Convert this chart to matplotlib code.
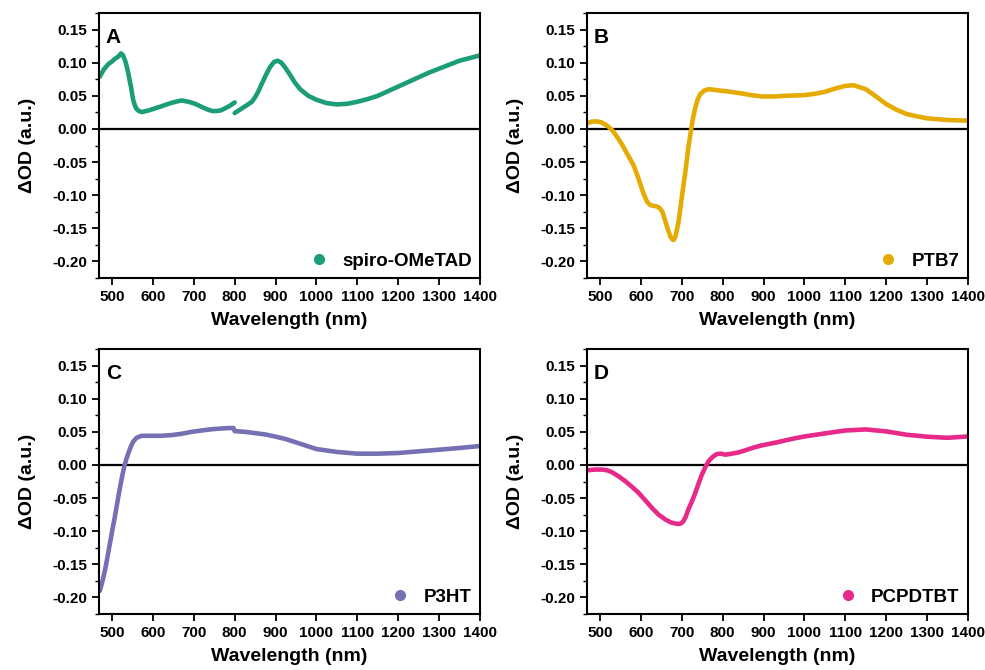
import matplotlib
matplotlib.use("Agg")
import matplotlib.pyplot as plt
from matplotlib.lines import Line2D
import numpy as np

plt.rcParams['font.family'] = ['Liberation Sans', 'DejaVu Sans']
plt.rcParams['font.weight'] = 'bold'

# Panel A: spiro-OMeTAD (two segments, gap at 800 nm)
a1_x = [470, 480, 491, 500, 507, 515, 522, 527, 532, 536, 540, 543, 546.5, 549, 552, 556, 560, 566, 573,
        590, 605, 620, 638, 655, 670, 687, 703, 720, 735, 746, 756, 766, 776, 788, 800]
a1_y = [0.079, 0.090, 0.098, 0.102, 0.106, 0.109, 0.114, 0.111, 0.103, 0.094, 0.083, 0.073, 0.063, 0.053, 0.043,
        0.035, 0.030, 0.027, 0.0255, 0.028, 0.031, 0.034, 0.038, 0.041, 0.043, 0.041, 0.038, 0.033, 0.029,
        0.027, 0.027, 0.028, 0.031, 0.035, 0.040]
a2_x = [800, 815, 830, 842, 850, 858, 866, 876, 886, 896, 905, 914, 923, 935, 946, 960, 980, 1000, 1025,
        1050, 1075, 1100, 1125, 1150, 1175, 1200, 1225, 1250, 1275, 1300, 1325, 1350, 1375, 1400]
a2_y = [0.024, 0.030, 0.036, 0.041, 0.048, 0.057, 0.068, 0.081, 0.093, 0.101, 0.103, 0.100, 0.093, 0.082, 0.071,
        0.060, 0.050, 0.044, 0.039, 0.037, 0.038, 0.041, 0.045, 0.050, 0.057, 0.064, 0.071, 0.078, 0.085,
        0.091, 0.097, 0.103, 0.107, 0.111]

# Panel B: PTB7
b_x = [470, 480, 492, 503, 513, 521, 529, 537, 545, 556, 566, 574, 582, 590, 598, 606, 615, 623, 631, 639,
       647, 653, 660, 666, 672, 677, 680, 684, 688, 692, 696, 700, 704, 708, 712, 716, 720, 723, 727, 733,
       739, 745, 755, 765, 780, 798, 820, 847, 870, 896, 925, 953, 1000, 1025, 1050, 1075, 1100, 1120,
       1150, 1175, 1200, 1225, 1250, 1275, 1300, 1350, 1400]
b_y = [0.009, 0.011, 0.0114, 0.010, 0.0065, 0.003, -0.0015, -0.008, -0.015, -0.026, -0.0375, -0.046, -0.055,
       -0.068, -0.0825, -0.097, -0.110, -0.115, -0.116, -0.117, -0.120, -0.126, -0.140, -0.152, -0.1625,
       -0.167, -0.1675, -0.163, -0.152, -0.140, -0.122, -0.1025, -0.085, -0.0675, -0.048, -0.0275, -0.012,
       0.000, 0.015, 0.0325, 0.045, 0.0525, 0.058, 0.060, 0.059, 0.0575, 0.056, 0.0535, 0.051, 0.049, 0.049,
       0.050, 0.051, 0.053, 0.056, 0.061, 0.065, 0.066, 0.060, 0.049, 0.0375, 0.029, 0.0225, 0.019, 0.016,
       0.0135, 0.0125]

# Panel C: P3HT
c_x = [470, 477, 483, 489, 495, 501, 507, 513, 520, 525, 530, 535, 540, 546, 552, 560, 572, 590, 621, 645,
       670, 695, 719, 745, 768, 785, 797, 800, 825, 850, 875, 898, 925, 947, 975, 1000, 1050, 1100, 1150,
       1200, 1250, 1300, 1350, 1400]
c_y = [-0.190, -0.174, -0.158, -0.138, -0.1175, -0.097, -0.0775, -0.056, -0.032, -0.016, -0.002, 0.009, 0.018,
       0.028, 0.0355, 0.041, 0.044, 0.044, 0.044, 0.045, 0.047, 0.050, 0.052, 0.054, 0.055, 0.0557, 0.0557,
       0.051, 0.050, 0.048, 0.046, 0.043, 0.039, 0.0346, 0.029, 0.024, 0.0196, 0.017, 0.017, 0.018, 0.0205,
       0.023, 0.0256, 0.0286]

# Panel D: PCPDTBT
d_x = [470, 488, 505, 517, 529, 545, 562, 578, 594, 610, 627, 643, 660, 674, 688, 695, 702, 709, 716, 724,
       733, 741, 749, 757, 765, 775, 786, 796, 806, 822, 839, 855, 872, 892, 912, 932, 953, 975, 1000, 1050,
       1100, 1150, 1200, 1250, 1300, 1350, 1400]
d_y = [-0.008, -0.007, -0.007, -0.008, -0.011, -0.017, -0.0247, -0.033, -0.042, -0.053, -0.065, -0.075,
       -0.0824, -0.087, -0.0889, -0.089, -0.0864, -0.079, -0.067, -0.056, -0.042, -0.028, -0.0146, -0.004,
       0.0054, 0.012, 0.0166, 0.017, 0.0155, 0.017, 0.019, 0.022, 0.0256, 0.029, 0.0316, 0.034, 0.037, 0.040,
       0.043, 0.0476, 0.052, 0.0536, 0.0506, 0.0456, 0.0426, 0.041, 0.043]

labels = ['spiro-OMeTAD', 'PTB7', 'P3HT', 'PCPDTBT']
letters = ['A', 'B', 'C', 'D']
colors = ['#1b9e77', '#e6ab02', '#7570b3', '#e7298a']
yticks = [0.15, 0.10, 0.05, 0.00, -0.05, -0.10, -0.15, -0.20]
xticks = [500, 600, 700, 800, 900, 1000, 1100, 1200, 1300, 1400]

series = [[(a1_x, a1_y), (a2_x, a2_y)], [(b_x, b_y)], [(c_x, c_y)], [(d_x, d_y)]]

fig = plt.figure(figsize=(9.85, 6.70), dpi=100)
rects = [
    [99 / 985, 1 - 278 / 670, 381 / 985, 265 / 670],
    [587 / 985, 1 - 278 / 670, 381 / 985, 265 / 670],
    [99 / 985, 1 - 614 / 670, 381 / 985, 265 / 670],
    [587 / 985, 1 - 614 / 670, 381 / 985, 265 / 670],
]

for i in range(4):
    ax = fig.add_axes(rects[i])
    for xs, ys in series[i]:
        ax.plot(xs, ys, color=colors[i], lw=3.3, solid_capstyle='round', solid_joinstyle='round')
    ax.axhline(0, color='black', lw=1.6, zorder=1)
    ax.set_xlim(468, 1400)
    ax.set_ylim(-0.2245, 0.174)
    ax.set_xticks(xticks)
    ax.set_xticklabels([str(t) for t in xticks], fontsize=11, fontweight='bold')
    ax.set_yticks(yticks)
    ax.set_yticklabels(['%.2f' % t for t in yticks], fontsize=11, fontweight='bold')
    ax.set_yticks(np.arange(-0.225, 0.176, 0.025), minor=True)
    ax.tick_params(axis='both', which='major', direction='out', length=5, width=1.3, top=False, right=False)
    ax.tick_params(axis='y', which='minor', direction='out', length=3, width=1.0)
    for s in ax.spines.values():
        s.set_linewidth(1.5)
    ax.set_xlabel('Wavelength (nm)', fontsize=14, fontweight='bold', labelpad=6)
    ax.set_ylabel('ΔOD (a.u.)', fontsize=14, fontweight='bold', labelpad=12)
    ax.text(0.018, 0.945, letters[i], transform=ax.transAxes, fontsize=15, fontweight='bold',
            va='top', ha='left')
    handle = Line2D([], [], marker='o', ls='', color=colors[i], markersize=7)
    ax.legend([handle], [labels[i]], loc='lower right', frameon=False,
              prop={'size': 13.5, 'weight': 'bold'}, handletextpad=0.5, borderaxespad=0.05,
              handlelength=1.5)

fig.savefig('out.png', dpi=100)
